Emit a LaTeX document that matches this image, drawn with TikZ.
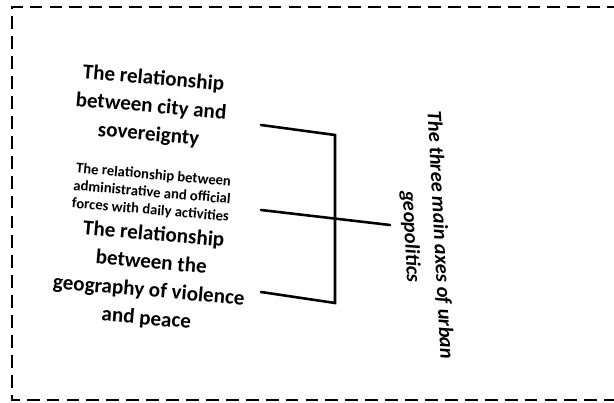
\documentclass[tikz,border=0pt]{standalone}
\usepackage{fontspec}
\setmainfont{Carlito}
\tikzset{
  bigtext/.style={align=center, font=\bfseries\fontsize{18}{24}\selectfont, rotate=-5, inner sep=0pt},
  smalltext/.style={align=center, font=\bfseries\fontsize{12.5}{15}\selectfont, rotate=-5, inner sep=0pt},
  bracket/.style={line width=2.2pt, line cap=round},
  frame/.style={line width=2pt, dash pattern=on 11pt off 6pt}
}
\begin{document}
\begin{tikzpicture}[x=0.03cm, y=0.03cm]
            % Fix the page
            \clip (0,0) rectangle (614,403);

            % Draw dashed frame
            \draw[frame] (640,396) -- (12,396) -- (12,3) -- (640,3);

            % Text nodes
            \node[bigtext] (city) at (151,296) {The relationship\\between city and\\sovereignty};
            \node[smalltext] (admin) at (152,210) {The relationship between\\administrative and official\\forces with daily activities};
            \node[bigtext] (violence) at (150,126) {The relationship\\between the\\geography of violence\\and peace};
            \node[align=center, font=\bfseries\itshape\fontsize{17.5}{25}\selectfont, rotate=-87, inner sep=0pt] (axes) at (425,167)
              {The three main axes of urban\\geopolitics};

            % Bracket ends
            \coordinate (c1) at (261,278);
            \coordinate (c2) at (335,268);
            \coordinate (a1) at (261,193);
            \coordinate (a2) at (390,178);
            \coordinate (v1) at (261,111);
            \coordinate (v2) at (335,100);

            % Draw bracket
            \draw[bracket] (c1) -- (c2) -- (v2) -- (v1);
            \draw[bracket] (a1) -- (a2);
          \end{tikzpicture}
\end{document}
